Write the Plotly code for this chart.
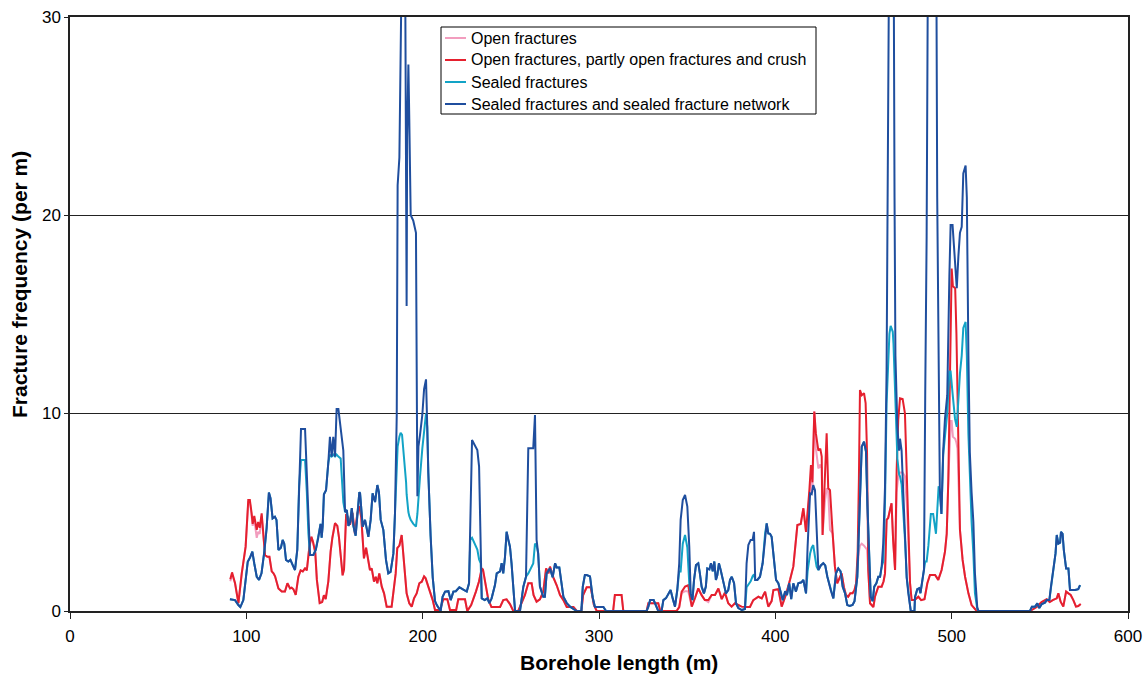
import plotly.graph_objects as go

# Borehole depth (m) for the open-fracture logs
depth_open = [
    90.9, 91.9, 93.6, 95.5, 97.4, 99.6, 101.1, 102.0, 103.0, 103.6, 104.5, 105.9, 106.7, 107.6, 108.7,
    109.6, 110.6, 111.9, 113.1, 114.4, 115.4, 116.3, 118.2, 120.1, 121.9, 123.3, 124.8, 125.7, 126.7,
    128.0, 129.5, 130.8, 132.0, 133.3, 134.3, 135.7, 136.9, 137.8, 139.1, 140.0, 141.6, 143.0, 144.0,
    145.0, 146.5, 147.8, 148.8, 150.3, 151.6, 152.5, 153.6, 154.6, 155.4, 156.6, 157.8, 158.8, 160.2,
    161.6, 162.9, 164.1, 165.2, 166.7, 167.9, 169.2, 170.1, 171.1, 172.4, 173.4, 174.3, 175.4, 176.8,
    178.1, 179.6, 182.4, 183.4, 184.7, 185.6, 186.8, 188.1, 189.0, 190.0, 190.9, 192.4, 193.8, 195.1,
    196.6, 198.1, 199.5, 200.8, 201.7, 203.2, 204.6, 205.7, 207.0, 209.8, 211.7, 214.0, 215.5, 219.0,
    220.2, 224.0, 225.3, 227.5, 230.2, 231.9, 233.5, 234.2, 235.9, 237.2, 239.0, 243.9, 245.7, 247.6,
    249.5, 251.4, 254.2, 256.2, 258.0, 259.9, 261.8, 262.9, 264.6, 266.5, 268.4, 270.0, 271.4, 272.2,
    274.1, 276.0, 277.9, 279.8, 281.7, 285.5, 287.4, 290.0, 291.0, 293.0, 295.3, 297.1, 298.7, 308.0,
    309.0, 312.8, 313.8, 327.0, 328.0, 333.6, 334.8, 344.0, 345.5, 346.9, 348.8, 350.6, 352.6, 354.5,
    356.3, 358.2, 360.0, 362.0, 363.9, 365.8, 367.7, 369.6, 371.4, 373.3, 375.2, 377.1, 379.0, 380.8,
    383.7, 385.6, 387.5, 390.4, 392.3, 394.2, 396.0, 397.9, 398.9, 401.7, 403.6, 405.9, 408.3, 410.2,
    412.5, 414.4, 415.9, 417.4, 419.3, 420.2, 421.0, 422.1, 423.0, 424.4, 425.5, 426.3, 426.8, 428.1,
    429.1, 430.0, 431.0, 432.5, 433.8, 435.1, 436.6, 437.6, 438.9, 440.1, 441.3, 442.5, 443.8, 444.9,
    445.8, 446.7, 447.4, 448.0, 449.0, 450.3, 451.2, 452.0, 452.7, 453.7, 455.6, 456.5, 458.4, 460.3,
    461.4, 462.2, 463.1, 464.0, 465.0, 465.9, 466.8, 467.9, 468.8, 469.7, 470.7, 472.2, 473.5, 474.5,
    475.4, 476.4, 477.3, 479.0, 481.1, 482.7, 484.6, 486.2, 487.7, 490.6, 492.4, 494.3, 496.2, 497.2,
    498.1, 498.9, 499.5, 500.0, 500.7, 502.0, 502.7, 503.3, 504.0, 504.7, 506.2, 507.6, 509.5, 511.3,
    514.2, 544.4, 548.2, 551.0, 553.9, 555.6, 557.3, 559.6, 560.5, 561.8, 563.3, 564.9, 566.2, 567.5,
    569.0, 570.5, 571.8, 573.2,
]

# Open fractures, partly open fractures and crush (per m)
open_crush = [
    1.6, 1.95, 1.4, 0.4, 1.9, 3.25, 5.6, 5.6, 4.94, 4.4, 4.8, 4.1, 4.5, 4.2, 4.93,
    3.8, 2.83, 2.74, 2.74, 2.0, 1.9, 1.75, 1.14, 0.98, 0.98, 1.4, 1.14, 1.18, 1.1,
    0.81, 1.73, 2.05, 2.0, 2.15, 2.05, 3.2, 3.75, 3.5, 2.95, 1.57, 0.4, 0.45, 0.8,
    0.6, 1.5, 3.0, 3.7, 4.43, 4.3, 3.75, 2.85, 1.8, 2.1, 4.9, 4.7, 4.35, 4.95,
    3.9, 4.9, 5.3, 4.7, 2.66, 3.2, 2.5, 2.07, 2.15, 1.48, 1.73, 1.4, 1.9, 1.23,
    0.89, 0.22, 0.22, 0.89, 1.9, 3.17, 3.3, 3.84, 3.0, 1.9, 0.89, 0.39, 0.22, 0.64,
    0.89, 1.4, 1.48, 1.75, 1.65, 1.23, 0.89, 0.55, 0.05, 0.05, 0.59, 0.59, 0.05, 0.05,
    0.59, 0.59, 0.0, 0.3, 0.98, 1.48, 2.15, 2.1, 1.23, 0.59, 0.2, 0.2, 0.55, 0.59,
    0.35, 0.0, 0.0, 0.47, 0.81, 1.4, 1.4, 0.8, 0.47, 0.59, 0.98, 2.15, 1.9, 2.24,
    1.7, 1.3, 0.81, 0.55, 0.2, 0.2, 0.0, 0.0, 0.81, 1.2, 1.2, 0.3, 0.0, 0.0,
    0.81, 0.81, 0.0, 0.0, 0.39, 0.39, 0.0, 0.0, 0.2, 0.98, 1.23, 1.3, 0.22, 0.67,
    1.14, 0.8, 0.55, 0.55, 0.81, 0.81, 1.14, 0.6, 0.93, 0.39, 0.22, 0.39, 0.3, 0.22,
    0.2, 0.2, 0.55, 0.72, 0.64, 0.98, 0.22, 0.5, 1.06, 1.1, 0.22, 0.8, 1.57, 2.24,
    4.34, 4.4, 5.19, 4.0, 6.11, 7.37, 6.5, 10.07, 8.97, 8.1, 8.2, 7.8, 3.84, 7.0,
    8.97, 6.2, 6.1, 3.92, 2.24, 1.4, 1.7, 1.9, 1.2, 0.8, 0.72, 0.9, 0.9, 1.06,
    1.4, 3.0, 6.7, 11.16, 10.9, 11.0, 10.5, 8.0, 2.07, 0.39, 0.2, 0.72, 1.23, 1.23,
    1.5, 1.9, 4.6, 4.7, 5.1, 5.44, 3.59, 2.07, 7.12, 9.65, 10.74, 10.7, 9.98, 7.1,
    3.75, 1.4, 0.55, 0.55, 0.72, 0.55, 0.6, 1.4, 1.82, 1.82, 1.57, 2.07, 3.0, 3.9,
    6.6, 11.0, 15.0, 17.3, 16.4, 16.3, 14.0, 10.9, 6.6, 4.1, 2.58, 1.73, 0.89, 0.3,
    0.0, 0.0, 0.2, 0.45, 0.59, 0.45, 0.55, 0.64, 0.89, 0.47, 0.22, 0.98, 0.89, 0.81,
    0.55, 0.22, 0.25, 0.35,
]

# Open fractures only (per m)
open_only = [
    1.5, 1.85, 1.4, 0.4, 1.9, 3.25, 5.5, 5.5, 4.8, 4.3, 4.6, 3.7, 4.0, 3.9, 4.8,
    3.7, 2.83, 2.74, 2.74, 2.0, 1.9, 1.75, 1.14, 0.98, 0.98, 1.4, 1.14, 1.18, 1.1,
    0.81, 1.73, 2.05, 2.0, 2.15, 2.05, 3.2, 3.75, 3.5, 2.95, 1.57, 0.4, 0.45, 0.8,
    0.6, 1.5, 3.0, 3.7, 4.43, 4.3, 3.75, 2.85, 1.8, 2.1, 4.9, 4.7, 4.35, 4.95,
    3.9, 4.9, 5.3, 4.7, 2.66, 3.2, 2.5, 2.07, 2.15, 1.48, 1.73, 1.4, 1.9, 1.23,
    0.89, 0.22, 0.22, 0.89, 1.9, 3.17, 3.3, 3.84, 3.0, 1.9, 0.89, 0.39, 0.22, 0.64,
    0.89, 1.4, 1.48, 1.75, 1.65, 1.23, 0.89, 0.55, 0.05, 0.05, 0.59, 0.59, 0.05, 0.05,
    0.59, 0.59, 0.0, 0.3, 0.98, 1.48, 2.15, 2.1, 1.23, 0.59, 0.2, 0.2, 0.55, 0.59,
    0.35, 0.0, 0.0, 0.47, 0.81, 1.4, 1.4, 0.8, 0.47, 0.59, 0.98, 2.15, 1.9, 2.24,
    1.7, 1.3, 0.81, 0.55, 0.2, 0.2, 0.0, 0.0, 0.81, 1.2, 1.2, 0.3, 0.0, 0.0,
    0.81, 0.81, 0.0, 0.0, 0.39, 0.39, 0.0, 0.0, 0.2, 0.9, 1.0, 1.0, 0.22, 0.67,
    1.14, 0.8, 0.55, 0.45, 0.81, 0.81, 1.14, 0.6, 0.93, 0.39, 0.22, 0.39, 0.3, 0.22,
    0.2, 0.2, 0.55, 0.72, 0.64, 0.98, 0.22, 0.5, 1.06, 1.1, 0.22, 0.8, 1.57, 2.24,
    4.34, 4.4, 5.19, 4.0, 5.8, 6.5, 6.0, 10.07, 8.2, 7.2, 7.4, 7.2, 3.84, 5.5,
    6.2, 6.0, 4.1, 3.92, 2.24, 1.4, 1.7, 1.9, 1.2, 0.8, 0.72, 0.9, 0.9, 1.06,
    1.4, 2.5, 3.0, 3.3, 3.4, 3.3, 3.2, 3.1, 2.07, 0.39, 0.2, 0.72, 1.23, 1.23,
    1.5, 1.9, 4.6, 4.7, 5.1, 5.44, 3.59, 2.07, 6.0, 6.8, 7.0, 7.0, 6.8, 5.5,
    3.75, 1.4, 0.55, 0.55, 0.72, 0.55, 0.6, 1.4, 1.82, 1.82, 1.57, 2.07, 3.0, 3.9,
    6.6, 9.0, 9.6, 9.6, 8.8, 8.7, 8.5, 8.2, 6.6, 4.1, 2.58, 1.73, 0.89, 0.3,
    0.0, 0.0, 0.2, 0.45, 0.59, 0.45, 0.55, 0.64, 0.89, 0.47, 0.22, 0.98, 0.89, 0.81,
    0.55, 0.22, 0.25, 0.35,
]

# Borehole depth (m) for the sealed-fracture logs
depth_sealed = [
    90.7, 93.6, 95.5, 96.6, 98.3, 99.6, 100.8, 102.1, 103.4, 104.5, 105.9, 107.2, 108.6, 110.2, 111.5,
    112.8, 113.7, 114.9, 116.2, 117.1, 118.2, 119.6, 120.6, 121.5, 122.5, 123.8, 125.0, 126.3, 127.6,
    128.9, 129.9, 131.0, 133.3, 134.3, 135.2, 136.1, 138.0, 139.4, 140.8, 142.1, 142.7, 143.3, 144.0,
    145.2, 146.5, 147.4, 148.4, 149.3, 150.3, 151.2, 152.2, 153.5, 155.0, 156.0, 157.0, 157.9, 158.9,
    159.8, 160.7, 162.0, 163.0, 164.1, 164.5, 166.0, 167.3, 169.2, 170.5, 171.6, 173.0, 174.3, 175.2,
    176.2, 177.7, 179.2, 180.5, 181.8, 183.4, 184.3, 185.3, 185.8, 186.8, 187.5, 188.3, 190.0, 190.6,
    190.9, 191.2, 191.9, 192.4, 193.2, 194.7, 196.2, 197.0, 197.6, 198.5, 199.8, 200.8, 201.9, 202.6,
    203.2, 204.5, 205.7, 207.0, 208.0, 210.2, 211.3, 212.7, 214.6, 215.9, 217.4, 218.8, 220.8, 222.6,
    225.0, 226.3, 227.0, 228.0, 229.4, 231.0, 232.0, 232.9, 233.5, 235.2, 236.7, 237.8, 239.1, 241.0,
    242.0, 243.9, 244.8, 245.7, 246.7, 247.6, 248.5, 249.5, 250.4, 251.4, 252.4, 255.2, 257.1, 258.6,
    259.9, 262.7, 263.7, 264.6, 265.5, 266.5, 268.4, 269.3, 270.3, 272.2, 273.7, 275.1, 276.0, 277.5,
    278.8, 279.8, 281.7, 283.6, 285.5, 287.4, 290.0, 290.8, 292.0, 293.0, 294.9, 296.4, 297.7, 302.5,
    304.0, 327.0, 328.0, 329.0, 331.0, 332.3, 333.6, 335.5, 336.5, 338.0, 339.3, 340.6, 341.9, 343.1,
    344.4, 345.5, 346.3, 347.5, 348.8, 350.1, 351.2, 352.0, 353.0, 353.9, 355.0, 356.3, 357.2, 358.2,
    359.5, 360.6, 361.4, 362.6, 363.5, 364.5, 365.4, 366.3, 367.1, 368.0, 369.0, 370.1, 371.0, 372.0,
    373.3, 374.3, 375.3, 376.6, 377.7, 379.0, 381.0, 382.8, 383.7, 384.7, 386.0, 387.1, 387.9, 388.6,
    389.8, 391.3, 392.8, 394.2, 395.1, 396.0, 397.0, 397.9, 399.2, 400.4, 401.7, 403.0, 404.2, 405.6,
    406.6, 407.9, 409.0, 410.2, 411.7, 413.0, 414.8, 415.9, 417.4, 418.3, 419.7, 420.6, 421.5, 422.5,
    423.4, 424.4, 425.8, 427.2, 428.3, 429.5, 431.4, 432.9, 434.4, 435.7, 437.0, 438.2, 439.5, 440.8,
    442.2, 443.8, 444.9, 446.5, 447.6, 449.0, 450.3, 451.4, 452.2, 453.3, 454.1, 455.2, 456.1, 457.3,
    458.4, 459.4, 460.3, 461.2, 462.2, 463.1, 464.1, 464.7, 465.4, 466.6, 467.0, 467.6, 468.1, 469.2,
    470.2, 470.7, 471.6, 472.6, 473.6, 474.5, 475.4, 476.8, 478.9, 479.2, 480.5, 481.6, 482.3, 484.3,
    485.0, 485.8, 486.8, 488.2, 489.5, 491.1, 491.8, 492.6, 493.3, 494.2, 495.2, 496.2, 497.5, 498.7,
    499.4, 500.5, 501.9, 502.9, 503.8, 504.7, 505.7, 506.6, 507.9, 508.6, 509.5, 510.3, 511.3, 512.3,
    513.2, 514.5, 515.2, 544.4, 545.5, 547.3, 548.6, 549.7, 551.1, 552.9, 553.9, 555.4, 556.3, 557.7,
    558.9, 559.6, 560.5, 561.5, 562.0, 562.9, 563.6, 564.9, 566.2, 567.1, 570.0, 571.8, 572.8,
]

# Sealed fractures and sealed fracture network (per m)
sealed_network = [
    0.59, 0.55, 0.3, 0.2, 0.55, 1.57, 2.49, 2.7, 3.0, 2.4, 1.73, 1.57, 1.9, 3.0, 4.18,
    5.98, 5.7, 4.68, 4.76, 4.6, 3.08, 3.2, 3.59, 3.4, 2.58, 2.5, 2.58, 2.32, 2.07,
    3.1, 6.28, 9.19, 9.19, 6.9, 3.92, 2.83, 2.83, 3.1, 3.7, 4.4, 3.7, 4.3, 5.9,
    6.1, 7.5, 8.8, 7.8, 8.8, 7.8, 10.2, 10.2, 9.1, 8.1, 5.0, 5.1, 4.3, 4.5,
    5.2, 4.3, 3.8, 4.9, 6.0, 5.94, 4.26, 4.6, 3.75, 4.6, 5.94, 5.5, 6.36, 6.0,
    4.6, 4.1, 2.58, 1.9, 1.98, 2.91, 4.93, 9.9, 21.5, 22.9, 27.7, 34.0, 34.0, 24.9,
    15.4, 23.9, 27.6, 24.9, 20.0, 19.7, 19.1, 5.8, 8.3, 8.9, 9.9, 11.2, 11.7, 9.3,
    7.0, 3.8, 1.7, 0.5, 0.3, 0.0, 0.72, 0.98, 1.0, 0.55, 0.98, 1.0, 1.2, 1.1,
    0.98, 1.4, 3.92, 8.64, 8.4, 8.13, 7.29, 3.92, 0.64, 0.55, 0.64, 0.4, 0.64, 1.31,
    1.9, 2.0, 2.41, 1.9, 2.74, 4.0, 3.6, 3.25, 2.41, 1.23, 0.0, 0.0, 1.23, 1.73,
    8.22, 8.22, 9.9, 3.59, 2.91, 1.23, 0.72, 0.72, 1.9, 2.15, 1.7, 2.41, 2.2, 2.2,
    1.48, 0.72, 0.4, 0.22, 0.1, 0.0, 0.0, 1.23, 1.82, 1.82, 1.75, 0.7, 0.2, 0.2,
    0.0, 0.0, 0.22, 0.55, 0.55, 0.3, 0.0, 0.0, 0.55, 0.65, 0.89, 1.06, 0.6, 0.22,
    1.06, 2.41, 4.6, 5.6, 5.86, 5.27, 3.25, 0.89, 0.55, 1.57, 2.32, 2.41, 1.9, 1.23,
    0.89, 1.23, 2.15, 2.1, 2.41, 2.0, 2.5, 1.57, 1.8, 2.41, 2.07, 1.57, 1.23, 0.89,
    1.06, 1.57, 1.73, 1.4, 0.39, 0.15, 0.05, 0.1, 2.41, 3.33, 3.59, 3.59, 4.0, 1.57,
    1.57, 1.73, 2.41, 3.92, 4.43, 3.92, 3.9, 3.75, 2.58, 1.57, 1.4, 0.98, 0.55, 1.0,
    0.8, 1.4, 0.6, 1.4, 0.98, 1.4, 1.45, 1.57, 0.89, 3.25, 5.94, 5.9, 6.36, 6.1,
    4.1, 2.07, 2.3, 2.41, 2.3, 1.73, 1.06, 0.64, 1.9, 2.15, 2.0, 1.23, 0.9, 0.3,
    0.25, 0.3, 0.5, 1.73, 4.6, 8.3, 8.55, 8.05, 5.4, 2.58, 0.72, 0.5, 1.23, 1.4,
    1.73, 1.73, 2.24, 3.42, 6.28, 12.2, 24.9, 36.0, 36.0, 36.0, 36.0, 20.9, 12.9, 9.3,
    8.1, 8.7, 8.1, 5.9, 3.7, 1.7, 0.9, 0.0, 0.0, 0.7, 1.1, 1.15, 0.9, 2.1,
    10.9, 18.9, 38.0, 38.0, 38.0, 38.0, 20.9, 10.9, 6.1, 4.9, 8.1, 9.7, 10.9, 16.9,
    19.5, 19.5, 17.9, 16.3, 17.9, 19.1, 19.4, 22.1, 22.5, 20.9, 12.9, 8.0, 6.0, 4.5,
    1.9, 0.2, 0.0, 0.0, 0.22, 0.22, 0.39, 0.15, 0.35, 0.42, 0.55, 0.55, 1.23, 2.24,
    2.91, 3.84, 3.4, 3.45, 4.0, 3.9, 3.08, 2.15, 2.15, 1.06, 1.06, 1.1, 1.31,
]

# Sealed fractures only (per m)
sealed_only = [
    0.59, 0.55, 0.3, 0.2, 0.55, 1.57, 2.49, 2.7, 3.0, 2.4, 1.73, 1.57, 1.9, 3.0, 4.18,
    5.98, 5.7, 4.68, 4.76, 4.6, 3.08, 3.2, 3.59, 3.4, 2.58, 2.5, 2.58, 2.32, 2.07,
    3.1, 6.28, 7.63, 7.63, 6.0, 3.92, 2.83, 2.83, 3.1, 3.7, 4.4, 3.7, 4.3, 5.9,
    6.1, 7.5, 7.9, 7.8, 7.9, 7.8, 7.9, 7.8, 7.7, 5.5, 5.0, 5.1, 4.3, 4.5,
    5.2, 4.3, 3.8, 4.9, 6.0, 5.94, 4.26, 4.6, 3.75, 4.6, 5.94, 5.5, 6.36, 6.0,
    4.6, 4.1, 2.58, 1.9, 1.98, 2.91, 4.93, 7.0, 8.3, 8.8, 9.0, 8.9, 7.4, 6.5,
    5.9, 5.5, 5.0, 4.8, 4.6, 4.4, 4.26, 4.9, 5.8, 6.78, 8.2, 9.2, 9.98, 9.3,
    7.0, 3.8, 1.7, 0.5, 0.3, 0.0, 0.72, 0.98, 1.0, 0.55, 0.98, 1.0, 1.2, 1.1,
    0.98, 1.4, 3.6, 3.7, 3.4, 3.1, 2.6, 2.4, 0.64, 0.55, 0.64, 0.4, 0.64, 1.31,
    1.9, 2.0, 2.41, 1.9, 2.74, 4.0, 3.6, 3.25, 2.41, 1.23, 0.0, 0.0, 1.23, 1.73,
    1.9, 2.4, 3.4, 3.3, 2.91, 1.23, 0.72, 0.72, 1.9, 2.15, 1.7, 2.41, 2.2, 2.2,
    1.48, 0.72, 0.4, 0.22, 0.1, 0.0, 0.0, 1.23, 1.82, 1.82, 1.75, 0.7, 0.2, 0.2,
    0.0, 0.0, 0.22, 0.55, 0.55, 0.3, 0.0, 0.0, 0.55, 0.65, 0.89, 1.06, 0.6, 0.22,
    1.06, 2.0, 2.0, 3.4, 3.84, 3.2, 1.4, 0.89, 0.55, 1.57, 2.32, 2.41, 1.9, 1.23,
    0.89, 1.23, 2.15, 2.1, 2.41, 2.0, 2.5, 1.57, 1.8, 2.41, 2.07, 1.57, 1.23, 0.89,
    1.06, 1.57, 1.73, 1.4, 0.39, 0.15, 0.05, 0.1, 1.2, 1.35, 1.5, 1.75, 1.85, 1.57,
    1.57, 1.73, 2.41, 3.92, 4.43, 3.92, 3.9, 3.75, 2.58, 1.57, 1.4, 0.98, 0.55, 1.0,
    0.8, 1.4, 0.6, 1.4, 0.98, 1.4, 1.45, 1.57, 0.89, 2.0, 2.9, 3.2, 3.33, 2.74,
    2.24, 2.07, 2.3, 2.41, 2.3, 1.73, 1.06, 0.64, 1.9, 2.15, 2.0, 1.23, 0.9, 0.3,
    0.25, 0.3, 0.5, 1.73, 4.6, 8.3, 8.55, 8.05, 5.4, 2.58, 0.72, 0.5, 1.23, 1.4,
    1.73, 1.73, 2.24, 2.5, 5.5, 10.5, 13.3, 14.0, 14.4, 14.1, 13.5, 11.9, 9.8, 7.7,
    6.9, 6.8, 6.4, 5.2, 3.5, 1.7, 0.9, 0.0, 0.0, 0.7, 1.1, 1.15, 0.9, 2.1,
    2.5, 2.5, 3.3, 4.9, 4.9, 3.9, 5.3, 6.3, 6.1, 4.9, 7.9, 8.9, 10.0, 12.1,
    12.1, 11.0, 9.7, 9.3, 10.9, 12.0, 12.9, 14.3, 14.6, 12.9, 8.9, 6.5, 4.5, 2.9,
    0.9, 0.1, 0.0, 0.0, 0.22, 0.22, 0.39, 0.15, 0.35, 0.42, 0.55, 0.55, 1.23, 2.24,
    2.91, 3.84, 3.4, 3.45, 4.0, 3.9, 3.08, 2.15, 2.15, 1.06, 1.06, 1.1, 1.31,
]

series_names = [
    "Open fractures",
    "Open fractures, partly open fractures and crush",
    "Sealed fractures",
    "Sealed fractures and sealed fracture network",
]
series_colors = ["#F29DBE", "#E5202E", "#12A3C6", "#1F4E9E"]
series_data = [
    (depth_open, open_only),
    (depth_open, open_crush),
    (depth_sealed, sealed_only),
    (depth_sealed, sealed_network),
]

font_family = "Liberation Sans, Arial, sans-serif"

# Plot-area geometry in pixels (figure is 1148 x 679)
PLOT_L, PLOT_R, PLOT_T, PLOT_B = 70, 1128, 17, 611
FIG_W, FIG_H = 1148, 679


def px_to_paper_x(px):
    return (px - PLOT_L) / (PLOT_R - PLOT_L)


def px_to_paper_y(py):
    return (PLOT_B - py) / (PLOT_B - PLOT_T)


fig = go.Figure()
for name, (xs, ys), color in zip(series_names, series_data, series_colors):
    fig.add_trace(go.Scatter(
        x=xs, y=ys, name=name, mode="lines",
        line=dict(color=color, width=2),
        showlegend=False,
    ))

# Boxed legend in the upper middle of the plot
legend_box = dict(x0=441, x1=816, y0=27, y1=114)
row_y = [38, 60, 82, 104]
shapes = [dict(
    type="rect", xref="paper", yref="paper", layer="above",
    x0=px_to_paper_x(legend_box["x0"]), x1=px_to_paper_x(legend_box["x1"]),
    y0=px_to_paper_y(legend_box["y1"]), y1=px_to_paper_y(legend_box["y0"]),
    line=dict(color="black", width=1), fillcolor="white",
)]
annotations = []
for name, color, ry in zip(series_names, series_colors, row_y):
    shapes.append(dict(
        type="line", xref="paper", yref="paper", layer="above",
        x0=px_to_paper_x(445), x1=px_to_paper_x(466),
        y0=px_to_paper_y(ry), y1=px_to_paper_y(ry),
        line=dict(color=color, width=2),
    ))
    annotations.append(dict(
        text=name, xref="paper", yref="paper", showarrow=False,
        x=px_to_paper_x(469), y=px_to_paper_y(ry),
        xanchor="left", yanchor="middle",
        font=dict(size=16, family=font_family, color="black"),
    ))

# Axis titles
annotations.append(dict(
    text="<b>Borehole length (m)</b>", xref="paper", yref="paper", showarrow=False,
    x=px_to_paper_x(619), y=px_to_paper_y(662), xanchor="center", yanchor="middle",
    font=dict(size=21, family=font_family, color="black"),
))
annotations.append(dict(
    text="<b>Fracture frequency (per m)</b>", xref="paper", yref="paper", showarrow=False,
    x=px_to_paper_x(20), y=px_to_paper_y(285), xanchor="center", yanchor="middle",
    textangle=-90,
    font=dict(size=21, family=font_family, color="black"),
))

fig.update_layout(
    width=FIG_W, height=FIG_H,
    margin=dict(l=PLOT_L, r=FIG_W - PLOT_R, t=PLOT_T, b=FIG_H - PLOT_B, autoexpand=False),
    paper_bgcolor="white", plot_bgcolor="white",
    font=dict(family=font_family, color="black"),
    showlegend=False,
    shapes=shapes,
    annotations=annotations,
    xaxis=dict(
        range=[0, 600], dtick=100, tick0=0, automargin=False,
        showgrid=False, zeroline=False,
        showline=True, linecolor="#222222", linewidth=1.5, mirror=True,
        ticks="outside", ticklen=6, tickcolor="#222222",
        ticklabelstandoff=3,
        tickfont=dict(size=17),
        layer="below traces",
    ),
    yaxis=dict(
        range=[0, 30], dtick=10, tick0=0, automargin=False,
        showgrid=True, gridcolor="#222222", gridwidth=1, zeroline=False,
        showline=True, linecolor="#222222", linewidth=1.5, mirror=True,
        ticks="outside", ticklen=4, tickcolor="#222222",
        tickfont=dict(size=17),
        layer="below traces",
    ),
)

fig.write_html("out.html")
